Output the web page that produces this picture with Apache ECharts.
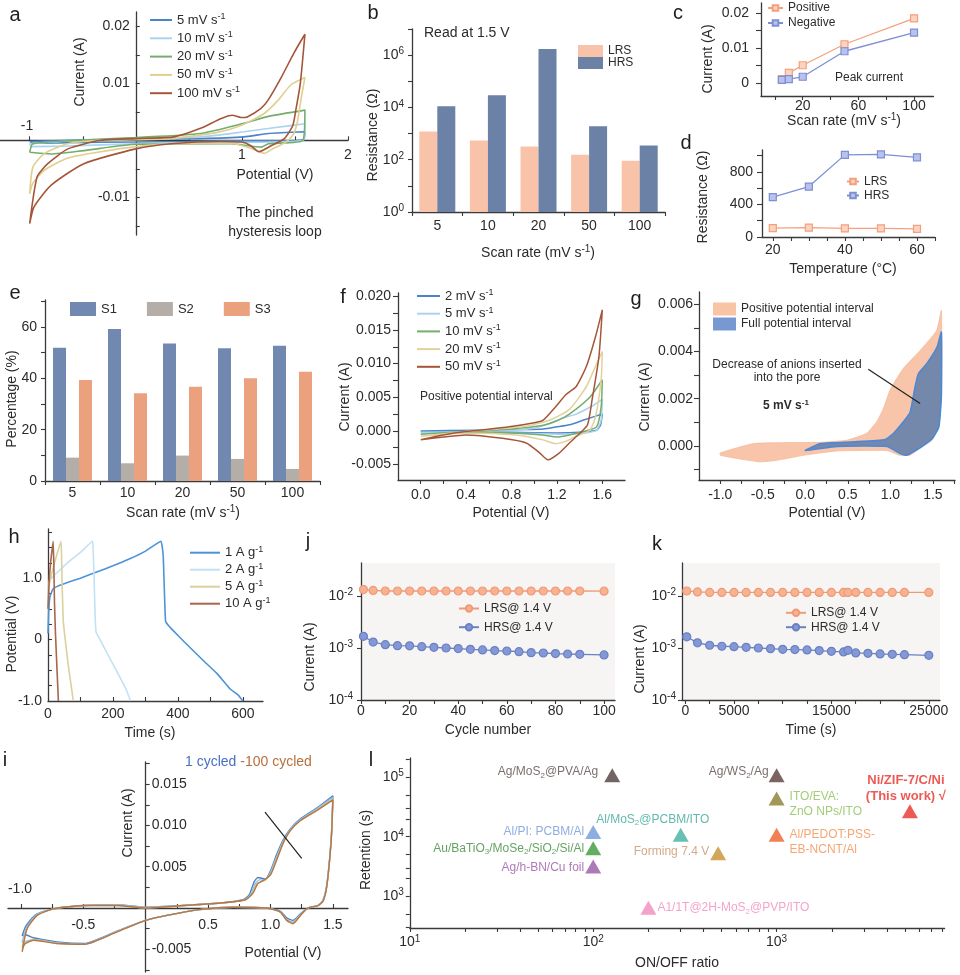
<!DOCTYPE html>
<html><head><meta charset="utf-8"><title>Figure panels a-l</title>
<script src="https://cdn.jsdelivr.net/npm/echarts@6/dist/echarts.min.js"></script>
<style>html,body{margin:0;padding:0;background:#fff;width:960px;height:975px;overflow:hidden}.p{position:absolute;left:0;top:0;width:960px;height:975px}</style>
</head><body>
<script>
// ================= DATA =================
// a : CV loops at different scan rates  [potential (V), current (A)]
const aNames = ['5 mV s^{-1}','10 mV s^{-1}','20 mV s^{-1}','50 mV s^{-1}','100 mV s^{-1}'];
const a5 = [[-1.0,-0.0002],[-0.6,0.0],[0,0.0002],[0.6,0.0003],[1.02,0.0006],[1.25,0.0012],[1.594,0.0015],[1.58,0.0001],[1.3,-0.0001],[0.9,-0.0001],[0.5,-0.0002],[0,-0.0003],[-0.64,-0.0004],[-0.97,-0.0005],[-1.0,-0.0002]];
const a10 = [[-1.0,-0.0006],[-0.6,-0.0001],[0,0.0002],[0.61,0.0006],[1.02,0.0015],[1.3,0.0022],[1.594,0.0029],[1.58,0.0],[1.25,-0.0003],[0.8,-0.0004],[0,-0.0006],[-0.64,-0.001],[-0.98,-0.0011],[-1.0,-0.0006]];
const a20 = [[-1.0,-0.0021],[-0.97,-0.0006],[-0.64,-0.0001],[0,0.0005],[0.61,0.0012],[1.02,0.003],[1.25,0.0042],[1.594,0.0053],[1.575,0.0],[1.25,-0.0006],[1.18,-0.0012],[0.9,-0.0006],[0,-0.0007],[-0.49,-0.0018],[-0.8,-0.0024],[-1.0,-0.0021]];
const a50 = [[-1.0,-0.0094],[-0.97,-0.0047],[-0.86,-0.0023],[-0.64,-0.0006],[-0.33,0.0],[0.33,0.0003],[0.77,0.0014],[0.99,0.0026],[1.21,0.0047],[1.34,0.007],[1.46,0.0097],[1.594,0.011],[1.56,0.0075],[1.52,0.003],[1.48,0.0009],[1.4,-0.0005],[1.3,-0.0014],[1.21,-0.0023],[1.1,-0.0015],[0.9,-0.0005],[0.33,-0.0006],[0,-0.0011],[-0.33,-0.002],[-0.64,-0.0031],[-0.86,-0.0052],[-0.97,-0.0075],[-1.0,-0.0094]];
const a100 = [[-1.0,-0.0146],[-0.93,-0.0064],[-0.83,-0.0041],[-0.64,-0.0015],[-0.33,0.0],[0,0.0003],[0.36,0.0006],[0.61,0.0021],[0.8,0.0038],[0.91,0.0044],[0.99,0.004],[1.05,0.0041],[1.18,0.0056],[1.245,0.007],[1.37,0.011],[1.49,0.0153],[1.594,0.0186],[1.55,0.0099],[1.51,0.0055],[1.48,0.0026],[1.40,0.0003],[1.28,-0.0009],[1.16,-0.002],[1.08,-0.0009],[1.0,-0.0003],[0.8,-0.0002],[0.33,-0.0006],[0,-0.0015],[-0.49,-0.0041],[-0.8,-0.0079],[-0.96,-0.0117],[-1.0,-0.0146]];

// b : resistance read at 1.5 V
const bCats = ['5','10','20','50','100'];
const bLRS = [1200,540,320,155,92];
const bHRS = [11000,29000,1700000,1900,350];

// c : peak current vs scan rate
const cRate = [5,10,20,50,100];
const cPos = [0.0011,0.0029,0.0051,0.0111,0.0185];
const cNeg = [0.0009,0.0011,0.0018,0.0091,0.0144];

// d : resistance vs temperature
const dTemp = [20,30,40,50,60];
const dLRS = [110,115,105,105,100];
const dHRS = [490,620,1010,1015,980];

// e : percentage S1/S2/S3
const eCats = ['5','10','20','50','100'];
const eS1 = [51.9,59.2,53.6,51.7,52.7];
const eS2 = [9.1,6.9,9.9,8.6,4.7];
const eS3 = [39.3,34.2,36.7,40.0,42.6];

// f : CV, positive potential interval
const fNames = ['2 mV s^{-1}','5 mV s^{-1}','10 mV s^{-1}','20 mV s^{-1}','50 mV s^{-1}'];
const f2 = [[0,0.0],[0.5,0.0001],[0.9,0.0002],[1.08,0.0003],[1.2,0.0006],[1.31,0.0009],[1.45,0.0017],[1.6,0.0025],[1.585,0.0009],[1.55,0.0001],[1.4,-0.0002],[1.2,-0.0003],[0.8,-0.0002],[0.4,-0.0001],[0,-0.0001]];
const f5 = [[0,-0.0002],[0.4,-0.0001],[0.8,0.0001],[1.0,0.0004],[1.1,0.0009],[1.25,0.0019],[1.37,0.0025],[1.51,0.0037],[1.6,0.0047],[1.59,0.0016],[1.55,0.0001],[1.45,-0.0003],[1.25,-0.0005],[1.0,-0.0004],[0.6,-0.0003],[0,-0.0003]];
const f10 = [[0,-0.0005],[0.4,-0.0001],[0.8,0.0003],[1.07,0.0008],[1.2,0.0015],[1.31,0.0025],[1.49,0.005],[1.6,0.0076],[1.59,0.0036],[1.55,0.0006],[1.43,-0.0001],[1.31,-0.0006],[1.2,-0.0009],[1.07,-0.0006],[0.8,-0.0003],[0.4,-0.0002],[0,-0.0005]];
const f20 = [[0,-0.0008],[0.4,-0.0001],[0.93,0.0007],[1.15,0.0017],[1.31,0.0032],[1.46,0.0066],[1.54,0.0096],[1.6,0.0118],[1.59,0.0076],[1.54,0.0021],[1.49,0.0001],[1.37,-0.0008],[1.27,-0.0016],[1.19,-0.0019],[1.07,-0.0013],[0.84,-0.0006],[0.4,-0.0003],[0,-0.0008]];
const f50 = [[0,-0.0013],[0.2,-0.0006],[0.4,-0.0001],[0.78,0.0006],[1.0,0.0012],[1.08,0.0016],[1.19,0.0036],[1.28,0.0054],[1.37,0.0066],[1.46,0.0096],[1.54,0.014],[1.6,0.018],[1.57,0.011],[1.51,0.0046],[1.47,0.0009],[1.4,-0.0004],[1.31,-0.0018],[1.22,-0.0033],[1.12,-0.0043],[1.05,-0.0033],[0.93,-0.0018],[0.72,-0.0011],[0.4,-0.0006],[0.2,-0.0009],[0,-0.0013]];

// g : loop areas at 5 mV/s (outline points)
const gPositive = [[1.6,0.00575],[1.545,0.0049],[1.35,0.00405],[1.155,0.0033],[1.0,0.0024],[0.92,0.0016],[0.84,0.00103],[0.72,0.00053],[0.49,0.00024],[0.18,0.00015],[-0.6,0.0001],[-1.0,-0.0003],[-1.0,-0.0004],[-0.8,-0.00054],[-0.53,-0.00068],[-0.33,-0.00061],[-0.02,-0.0004],[0.37,-0.00022],[0.96,-0.0002],[1.11,-0.0004],[1.23,-0.0004],[1.35,-0.0001],[1.49,0.00024],[1.57,0.00081],[1.6,0.0024]];
const gFull = [[1.6,0.00483],[1.55,0.0042],[1.43,0.0035],[1.33,0.00307],[1.29,0.0025],[1.23,0.0014],[1.155,0.00103],[1.04,0.00054],[0.94,0.00027],[0.57,0.00017],[0.18,0.0001],[0.0,-0.0002],[0.37,-0.00003],[0.96,-0.00003],[1.11,-0.00032],[1.19,-0.0004],[1.27,-0.00025],[1.37,-0.00003],[1.49,0.0003],[1.57,0.0008],[1.6,0.0021]];

// h : galvanostatic charge/discharge [time (s), potential (V)]
const hNames = ['1 A g^{-1}','2 A g^{-1}','5 A g^{-1}','10 A g^{-1}'];
const h1 = [[0,0.1],[2,0.45],[6,0.7],[15,0.82],[30,0.87],[60,0.93],[100,1.0],[150,1.1],[200,1.2],[250,1.31],[300,1.44],[348,1.6],[352,1.5],[355,1.34],[358,0.85],[362,0.3],[372,0.22],[385,0.15],[420,-0.04],[478,-0.34],[520,-0.55],[560,-0.8],[585,-0.9],[600,-1.0]];
const h2 = [[0,0.85],[5,0.97],[30,1.1],[60,1.25],[100,1.42],[137,1.6],[139,1.45],[142,1.0],[145,0.4],[148,0.12],[160,0.0],[190,-0.3],[220,-0.6],[240,-0.8],[254,-1.0]];
const h5 = [[0,0.8],[8,1.0],[20,1.25],[40,1.6],[42,1.3],[44,0.8],[47,0.3],[53,0.0],[62,-0.4],[70,-0.7],[78,-1.0]];
const h10 = [[0,0.5],[4,1.0],[9,1.3],[16,1.6],[18,1.2],[20,0.6],[23,0.1],[27,-0.4],[32,-1.0]];

// i : CV from 1st to 100th cycle
const iNames = ['1 cycled','cycle A','cycle B','100 cycled'];
const i1 = [[-0.99,-0.0034],[-0.96,-0.0022],[-0.88,-0.0008],[-0.74,-0.0001],[-0.49,0.0003],[-0.23,0.0004],[0,0.0001],[0.3,0.0003],[0.6,0.0006],[0.78,0.001],[0.83,0.0016],[0.87,0.0032],[0.9,0.0037],[0.93,0.0036],[0.96,0.0035],[1.0,0.0045],[1.05,0.0065],[1.1,0.0082],[1.16,0.0096],[1.24,0.0108],[1.37,0.0121],[1.5,0.0136],[1.49,0.0095],[1.475,0.0062],[1.45,0.0027],[1.42,0.0009],[1.38,0.0003],[1.3,0.0],[1.24,-0.0007],[1.18,-0.0015],[1.13,-0.0012],[1.08,-0.0004],[0.97,0.0],[0.7,0.0001],[0.43,-0.0002],[0.17,-0.0009],[0,-0.0015],[-0.23,-0.0028],[-0.49,-0.0043],[-0.71,-0.0041],[-0.9,-0.0036],[-0.97,-0.0032],[-0.99,-0.0034]];
const i2 = [[-0.99,-0.0042],[-0.955,-0.0024],[-0.875,-0.0008],[-0.74,-0.0001],[-0.49,0.0003],[-0.23,0.0004],[0,0.0001],[0.3,0.0003],[0.6,0.0006],[0.79,0.001],[0.84,0.0016],[0.88,0.003],[0.91,0.0034],[0.94,0.0034],[0.97,0.0036],[1.0,0.0043],[1.05,0.0062],[1.1,0.008],[1.16,0.0095],[1.24,0.0107],[1.37,0.012],[1.5,0.0134],[1.49,0.0093],[1.475,0.0061],[1.45,0.0026],[1.42,0.0009],[1.38,0.0003],[1.3,0.0],[1.24,-0.0008],[1.18,-0.0017],[1.13,-0.0014],[1.08,-0.0005],[0.97,0.0],[0.7,0.0001],[0.43,-0.0002],[0.17,-0.0009],[0,-0.0015],[-0.23,-0.0028],[-0.49,-0.0044],[-0.71,-0.0042],[-0.9,-0.0038],[-0.97,-0.0041],[-0.99,-0.0042]];
const i3 = [[-0.99,-0.0048],[-0.95,-0.0025],[-0.87,-0.0009],[-0.74,-0.0001],[-0.49,0.0003],[-0.23,0.0003],[0,0.0],[0.3,0.0003],[0.6,0.0006],[0.8,0.001],[0.85,0.0017],[0.89,0.0029],[0.93,0.0032],[0.96,0.0034],[1.0,0.0041],[1.05,0.006],[1.1,0.0079],[1.16,0.0094],[1.24,0.0106],[1.37,0.0119],[1.5,0.0132],[1.49,0.0091],[1.475,0.006],[1.45,0.0025],[1.42,0.0008],[1.38,0.0003],[1.3,0.0],[1.24,-0.0009],[1.18,-0.0018],[1.13,-0.0015],[1.08,-0.0005],[0.97,0.0],[0.7,0.0001],[0.43,-0.0002],[0.17,-0.0009],[0,-0.0015],[-0.23,-0.0029],[-0.49,-0.0044],[-0.71,-0.0043],[-0.9,-0.0038],[-0.97,-0.0043],[-0.99,-0.0048]];
const i100 = [[-0.99,-0.0053],[-0.95,-0.0025],[-0.87,-0.0009],[-0.74,-0.0001],[-0.49,0.0003],[-0.23,0.0003],[0,0.0],[0.3,0.0003],[0.6,0.0006],[0.8,0.001],[0.86,0.0018],[0.9,0.003],[0.95,0.0034],[1.0,0.004],[1.05,0.0058],[1.1,0.0078],[1.16,0.0094],[1.24,0.0106],[1.37,0.0118],[1.5,0.0131],[1.49,0.009],[1.475,0.006],[1.45,0.0025],[1.42,0.0008],[1.38,0.0003],[1.3,0.0],[1.24,-0.0009],[1.18,-0.0019],[1.13,-0.0015],[1.08,-0.0005],[0.97,0.0],[0.7,0.0001],[0.43,-0.0002],[0.17,-0.0009],[0,-0.0015],[-0.23,-0.0029],[-0.49,-0.0044],[-0.71,-0.0043],[-0.9,-0.0039],[-0.97,-0.0044],[-0.99,-0.0053]];

// j : endurance vs cycle number
const jCycle = [1,5,10,15,20,25,30,35,40,45,50,55,60,65,70,75,80,85,90,100];
const jLRS = [0.0133,0.0128,0.0125,0.0125,0.0125,0.0125,0.0125,0.0125,0.0125,0.0125,0.0125,0.0125,0.0125,0.0125,0.0125,0.0125,0.0125,0.0125,0.0125,0.0124];
const jHRS = [0.00168,0.0013,0.00116,0.00111,0.0011,0.00106,0.00103,0.001,0.000977,0.000944,0.000917,0.000891,0.000875,0.000851,0.000815,0.000802,0.00078,0.000767,0.000757,0.000735];

// k : retention vs time
const kTime = [150,1250,2500,3750,5000,6250,7500,8750,10000,11250,12500,13750,15000,16250,16700,17500,18750,20000,21250,22500,25000];
const kLRS = [0.0125,0.012,0.0117,0.0117,0.0117,0.0117,0.0117,0.0117,0.0117,0.0117,0.0117,0.0117,0.0117,0.0117,0.0117,0.0117,0.0117,0.0117,0.0117,0.0117,0.0117];
const kHRS = [0.00164,0.00126,0.00113,0.00108,0.00106,0.00103,0.001,0.000973,0.000944,0.000931,0.000918,0.000891,0.000863,0.000841,0.000904,0.000804,0.00079,0.000768,0.000757,0.000745,0.000723];

// l : comparison of devices
const lNames = ['Ag/MoS_{2}@PVA/Ag','Ag/WS_{2}/Ag','ITO/EVA:\nZnO NPs/ITO','Ni/ZIF-7/C/Ni\n(This work) √','Al/MoS_{2}@PCBM/ITO','Al/PI: PCBM/Al','Al/PEDOT:PSS-\nEB-NCNT/Al','Au/BaTiO_{3}/MoSe_{2}/SiO_{2}/Si/Al','Forming 7.4 V','Ag/h-BN/Cu foil','A1/1T@2H-MoS_{2}@PVP/ITO'];
const lRatio = [127,1000,1000,5330,300,100,1000,100,480,100,200];
const lRetention = [108000,108000,44000,26700,10800,12000,10800,6400,5280,3140,637];

// ================= STYLE / HELPERS =================
const FONT = "'Liberation Sans', Arial, Helvetica, sans-serif";
const AX = '#3a3a3a', TXT = '#2b2b2b';
function merge(a,b){const o=Object.assign({},a);for(const k in b){const v=b[k];if(v&&typeof v==='object'&&!Array.isArray(v)&&a&&a[k]&&typeof a[k]==='object'&&!Array.isArray(a[k]))o[k]=merge(a[k],v);else o[k]=v;}return o;}
function rt(s){return String(s).replace(/\^\{([^}]*)\}|_\{([^}]*)\}|([^\^_]+)/g,(m,p,q,r)=>p!=null?'{sup|'+p+'}':(q!=null?'{sub|'+q+'}':'{n|'+r+'}'));}
function R(fs,color,fw){color=color||TXT;fw=fw||'normal';const s=Math.round(fs*0.7);
  return {n:{fontSize:fs,fontFamily:FONT,color:color,fill:color,fontWeight:fw,lineHeight:fs+3},
          sup:{fontSize:s,fontFamily:FONT,color:color,fill:color,fontWeight:fw,lineHeight:s+1,verticalAlign:'top'},
          sub:{fontSize:s,fontFamily:FONT,color:color,fill:color,fontWeight:fw,lineHeight:s+1,verticalAlign:'bottom'}};}
function T(x,y,text,o){o=o||{};const al=o.align||'center';
  return {type:'text',x:x,y:y,rotation:o.rot?Math.PI/2:0,z:50,silent:true,
    style:{text:o.raw?text:rt(text),rich:o.rich||R(o.fs||14,o.color,o.fw),align:al,textAlign:al,verticalAlign:'middle',textVerticalAlign:'middle'}};}
const LET = {fs:20,color:'#1e1e1e'};
function G(l,t,w,h,extra){return merge({left:l,top:t,width:w,height:h,containLabel:false,outerBoundsMode:'none'},extra||{});}
function ax(o){return merge({
  axisLine:{show:true,onZero:false,lineStyle:{color:AX,width:1.3}},
  axisTick:{show:true,length:4,lineStyle:{color:AX,width:1.1}},
  axisLabel:{color:TXT,fontSize:14,fontFamily:FONT,margin:6},
  splitLine:{show:false}},o);}
function LG(o,fs){return merge({orient:'vertical',padding:0,selectedMode:false,formatter:n=>rt(n),
  textStyle:{fontSize:fs,color:TXT,fontFamily:FONT,rich:R(fs)}},o);}
function logFmt(v){return '{n|10}{sup|'+Math.round(Math.log10(v))+'}';}
function fx(n,zero){return v=>(zero&&Math.abs(v)<1e-12)?zero:v.toFixed(n);}
const intFmt = v=>String(Math.round(v));
function CV(name,data,color,w){return {type:'line',name:name,data:data,symbol:'none',showSymbol:false,smooth:0.2,lineStyle:{color:color,width:w},itemStyle:{color:color}};}
function MK(name,data,color,fill,symbol,size){return {type:'line',name:name,data:data,symbol:symbol,symbolSize:size,showSymbol:true,lineStyle:{color:color,width:1.3},itemStyle:{color:fill,borderColor:color,borderWidth:1.2}};}
function BAR(name,data,color,w){return {type:'bar',name:name,data:data,barWidth:w,barGap:'0%',itemStyle:{color:color}};}
function zip(xs,ys){return xs.map((x,i)=>[x,ys[i]]);}
// pixel offset that moves an axis from the grid edge onto the zero line of the other axis
function zeroOffset(len,min,max){return -len*(0-min)/(max-min);}
function panel(opt){const d=document.createElement('div');d.className='p';document.body.appendChild(d);
  const c=echarts.init(d,null,{renderer:'canvas'});opt.animation=false;opt.backgroundColor='transparent';opt.textStyle={fontFamily:FONT};c.setOption(opt);return c;}

// ================= PANEL a =================
const aColors=['#4a85c8','#a9d3f0','#74ad6c','#e0cf8f','#a5563a'];
const aX=[-1.28,2.0], aY=[-0.0166,0.0225], aG=[0,12,348,223];
panel({
  grid:G(aG[0],aG[1],aG[2],aG[3]),
  xAxis:ax({type:'value',min:aX[0],max:aX[1],offset:zeroOffset(aG[3],aY[0],aY[1]),axisTick:{inside:true,customValues:[-1,-0.5,0.5,1,1.5,2]},axisLabel:{customValues:[1,2],margin:8}}),
  yAxis:ax({type:'value',min:aY[0],max:aY[1],offset:zeroOffset(aG[2],aX[0],aX[1]),axisTick:{inside:true,customValues:[-0.015,-0.01,-0.005,0.005,0.01,0.015,0.02]},axisLabel:{customValues:[-0.01,0.01,0.02],margin:6,formatter:fx(2)}}),
  legend:LG({left:150,top:12,icon:'rect',itemWidth:22,itemHeight:2,itemGap:3.8,data:aNames},13),
  series:[a5,a10,a20,a50,a100].map((d,i)=>CV(aNames[i],d,aColors[i],1.6)),
  graphic:[T(15,15,'a',LET),T(27,126,'-1'),T(80,72,'Current (A)',{rot:1}),T(275,175,'Potential (V)'),T(275,213,'The pinched'),T(275,232,'hysteresis loop')]
});

// ================= PANEL b =================
panel({
  grid:G(412,29,253,183),
  xAxis:ax({type:'category',data:bCats,axisTick:{alignWithLabel:false},axisLabel:{margin:7}}),
  yAxis:ax({type:'log',logBase:10,min:1,max:1e7,axisTick:{customValues:[1,10,100,1e3,1e4,1e5,1e6,1e7]},axisLabel:{customValues:[1,100,1e4,1e6],formatter:logFmt,rich:R(14),margin:8}}),
  legend:LG({left:578,top:45,icon:'rect',itemWidth:25,itemHeight:12,itemGap:0,data:['LRS','HRS']},12),
  series:[BAR('LRS',bLRS,'#f9c3aa',18),BAR('HRS',bHRS,'#6b81a6',18)],
  graphic:[T(373,13,'b',LET),T(424,33,'Read at 1.5 V',{align:'left'}),T(373,135,'Resistance (Ω)',{rot:1}),T(538,253,'Scan rate (mV s^{-1})')]
});

// ================= PANEL c =================
panel({
  grid:G(761,3,172.5,93),
  xAxis:ax({type:'value',min:-10,max:114,axisTick:{customValues:[0,20,40,60,80,100]},axisLabel:{customValues:[20,60,100],margin:3}}),
  yAxis:ax({type:'value',min:-0.0037,max:0.0229,axisTick:{length:5,customValues:[0,0.005,0.01,0.015,0.02]},axisLabel:{customValues:[0,0.01,0.02],margin:12,formatter:fx(2,'0')}}),
  legend:LG({left:767,top:2,itemWidth:15,itemHeight:7,itemGap:3,data:['Positive','Negative']},12),
  series:[MK('Positive',zip(cRate,cPos),'#f4a07c','#fbd3c0','rect',7),MK('Negative',zip(cRate,cNeg),'#7e8fd4','#b9c2ec','rect',7)],
  graphic:[T(678,13,'c',LET),T(835,78,'Peak current',{align:'left',fs:12}),T(708,59,'Current (A)',{rot:1}),T(844,121,'Scan rate (mV s^{-1})')]
});

// ================= PANEL d =================
panel({
  grid:G(762,150,173,87),
  xAxis:ax({type:'value',min:17,max:65,axisTick:{customValues:[20,25,30,35,40,45,50,55,60,65]},axisLabel:{customValues:[20,40,60],margin:6}}),
  yAxis:ax({type:'value',min:0,max:1070,axisTick:{length:5,customValues:[0,200,400,600,800,1000]},axisLabel:{customValues:[0,400,800],margin:9}}),
  legend:LG({left:846,top:175.5,itemWidth:12,itemHeight:7,itemGap:2,data:['LRS','HRS']},12),
  series:[MK('LRS',zip(dTemp,dLRS),'#f4a07c','#fbd3c0','rect',7),MK('HRS',zip(dTemp,dHRS),'#7e8fd4','#b9c2ec','rect',7)],
  graphic:[T(686,143,'d',LET),T(703,197,'Resistance (Ω)',{rot:1}),T(843,269,'Temperature (°C)')]
});

// ================= PANEL e =================
panel({
  grid:G(45,300,275,181),
  xAxis:ax({type:'category',data:eCats,axisTick:{alignWithLabel:false},axisLabel:{margin:5}}),
  yAxis:ax({type:'value',min:0,max:70.5,axisTick:{customValues:[0,10,20,30,40,50,60,70]},axisLabel:{customValues:[0,20,40,60],margin:8}}),
  legend:LG({orient:'horizontal',left:70,top:302,icon:'rect',itemWidth:26,itemHeight:14,itemGap:30,data:['S1','S2','S3']},13),
  series:[BAR('S1',eS1,'#7189b0',13),BAR('S2',eS2,'#b5ada8',13),BAR('S3',eS3,'#eba07e',13)],
  graphic:[T(15,293,'e',LET),T(12,399,'Percentage (%)',{rot:1}),T(183,513,'Scan rate (mV s^{-1})')]
});

// ================= PANEL f =================
const fColors=['#4a85c8','#a9d3f0','#74ad6c','#e0d29a','#a5563a'];
panel({
  grid:G(398,293,227,187),
  xAxis:ax({type:'value',min:-0.2,max:1.8,axisTick:{customValues:[0,0.2,0.4,0.6,0.8,1.0,1.2,1.4,1.6]},axisLabel:{customValues:[0,0.4,0.8,1.2,1.6],margin:8,formatter:fx(1)}}),
  yAxis:ax({type:'value',min:-0.0073,max:0.0205,axisTick:{length:5,customValues:[-0.005,-0.0025,0,0.0025,0.005,0.0075,0.01,0.0125,0.015,0.0175,0.02]},axisLabel:{customValues:[-0.005,0,0.005,0.01,0.015,0.02],margin:7,formatter:fx(3)}}),
  legend:LG({left:417,top:288,icon:'rect',itemWidth:23,itemHeight:2,itemGap:3.2,data:fNames},13),
  series:[f2,f5,f10,f20,f50].map((d,i)=>CV(fNames[i],d,fColors[i],1.5)),
  graphic:[T(343,297,'f',LET),T(420,397,'Positive potential interval',{align:'left',fs:12}),T(345,397,'Current (A)',{rot:1}),T(511,513,'Potential (V)')]
});

// ================= PANEL g =================
function POLY(name,pts,legendColor,fill,stroke,lw,z){return {type:'custom',name:name,coordinateSystem:'cartesian2d',data:pts,encode:{x:0,y:1},z:z,itemStyle:{color:legendColor},
  renderItem:(p,api)=>{if(p.dataIndex!==0)return null;return {type:'polygon',shape:{points:pts.map(q=>api.coord(q)),smooth:0.15},style:{fill:fill,stroke:stroke,lineWidth:lw}};}};}
panel({
  grid:G(699,292,256,188),
  xAxis:ax({type:'value',min:-1.25,max:1.76,axisTick:{customValues:[-1,-0.75,-0.5,-0.25,0,0.25,0.5,0.75,1,1.25,1.5,1.75]},axisLabel:{customValues:[-1,-0.5,0,0.5,1,1.5],margin:8,formatter:fx(1)}}),
  yAxis:ax({type:'value',min:-0.00145,max:0.00653,axisTick:{length:5,customValues:[-0.001,0,0.001,0.002,0.003,0.004,0.005,0.006]},axisLabel:{customValues:[0,0.002,0.004,0.006],margin:6,formatter:fx(3)}}),
  legend:LG({left:713,top:302.5,icon:'rect',itemWidth:23,itemHeight:13,itemGap:2,data:['Positive potential interval','Full potential interval']},12),
  series:[POLY('Positive potential interval',gPositive,'#f9c3a6','#f9c5aa','#f6b999',0.8,2),
          POLY('Full potential interval',gFull,'#7898d2','rgba(92,124,171,0.85)','#4a88d8',1.5,3),
          {type:'scatter',data:[[0.74,0.00325]],symbolSize:0,z:5,silent:true,
           markLine:{silent:true,symbol:['none','arrow'],symbolSize:[0,9],label:{show:false},lineStyle:{color:'#222',width:1.2,type:'solid'},data:[[{coord:[0.74,0.00325]},{coord:[1.35,0.0018]}]]}}],
  graphic:[T(636,299,'g',LET),T(787,365,'Decrease of anions inserted',{fs:12}),T(787,378,'into the pore',{fs:12}),T(786,406,'5 mV s^{-1}',{fs:12,fw:'bold'}),T(645,397,'Current (A)',{rot:1}),T(827,513,'Potential (V)')]
});

// ================= PANEL h =================
const hColors=['#4d93d6','#c2e1f3','#d8d29c','#a8664a'];
panel({
  grid:G(48,529,215,172),
  xAxis:ax({type:'value',min:0,max:662,axisTick:{inside:true,customValues:[100,200,300,400,500,600]},axisLabel:{customValues:[0,200,400,600],margin:6}}),
  yAxis:ax({type:'value',min:-1,max:1.8,axisTick:{inside:true,customValues:[-0.75,-0.5,-0.25,0,0.25,0.5,0.75,1,1.25,1.5,1.75]},axisLabel:{customValues:[-1,0,1],margin:6,formatter:fx(1,'0')}}),
  legend:LG({left:190,top:544.7,icon:'rect',itemWidth:30,itemHeight:2,itemGap:2.5,data:hNames},13),
  series:[h1,h2,h5,h10].map((d,i)=>Object.assign(CV(hNames[i],d,hColors[i],1.6),{smooth:0.1})),
  graphic:[T(14,537,'h',LET),T(12,634,'Potential (V)',{rot:1}),T(150,733,'Time (s)')]
});

// ================= PANEL j =================
const bg = {show:true,backgroundColor:'#f7f5f4',borderWidth:0,borderColor:'transparent'};
panel({
  grid:G(361,563,254,137,bg),
  xAxis:ax({type:'value',min:0,max:104.5,axisTick:{customValues:[0,10,20,30,40,50,60,70,80,90,100]},axisLabel:{customValues:[0,20,40,60,80,100],margin:4,formatter:intFmt}}),
  yAxis:ax({type:'log',logBase:10,min:1e-4,max:0.04315,axisTick:{customValues:[1e-4,1e-3,1e-2]},axisLabel:{customValues:[1e-4,1e-3,1e-2],formatter:logFmt,rich:R(14),margin:8}}),
  legend:LG({left:458,top:602.5,itemWidth:20,itemHeight:8,itemGap:6.7,data:['LRS@ 1.4 V','HRS@ 1.4 V']},12),
  series:[MK('LRS@ 1.4 V',zip(jCycle,jLRS),'#f09a74','#f7b294','circle',8),MK('HRS@ 1.4 V',zip(jCycle,jHRS),'#6a80c4','#8598d6','circle',8)],
  graphic:[T(308,541,'j',LET),T(310,657,'Current (A)',{rot:1}),T(488,730,'Cycle number')]
});

// ================= PANEL k =================
panel({
  grid:G(682,563,258,137,bg),
  xAxis:ax({type:'value',min:-338,max:26150,axisTick:{customValues:[0,2500,5000,7500,10000,12500,15000,17500,20000,22500,25000]},axisLabel:{customValues:[0,5000,15000,25000],margin:4,formatter:intFmt}}),
  yAxis:ax({type:'log',logBase:10,min:1e-4,max:0.04315,axisTick:{customValues:[1e-4,1e-3,1e-2]},axisLabel:{customValues:[1e-4,1e-3,1e-2],formatter:logFmt,rich:R(14),margin:6}}),
  legend:LG({left:785,top:606.8,itemWidth:20,itemHeight:8,itemGap:2.4,data:['LRS@ 1.4 V','HRS@ 1.4 V']},12),
  series:[MK('LRS@ 1.4 V',zip(kTime,kLRS),'#f09a74','#f7b294','circle',8),MK('HRS@ 1.4 V',zip(kTime,kHRS),'#6a80c4','#8598d6','circle',8)],
  graphic:[T(657,544,'k',LET),T(640,659,'Current (A)',{rot:1}),T(811,730,'Time (s)')]
});

// ================= PANEL i =================
const iColors=['#4f7fc6','#8cc3ea','#c8c678','#b8754c'];
const iSeries=[i1,i2,i3,i100].map((d,k)=>CV(iNames[k],d,iColors[k],1.4));
iSeries[3].markLine={silent:true,symbol:['none','arrow'],symbolSize:[0,9],label:{show:false},lineStyle:{color:'#222',width:1.2,type:'solid'},data:[[{coord:[0.956,0.0116]},{coord:[1.25,0.006]}]]};
const iX=[-1.103,1.621], iY=[-0.00775,0.01768], iG=[8,762,340,210];
panel({
  grid:G(iG[0],iG[1],iG[2],iG[3]),
  xAxis:ax({type:'value',min:iX[0],max:iX[1],offset:zeroOffset(iG[3],iY[0],iY[1]),axisTick:{inside:true,customValues:[-1,-0.75,-0.5,-0.25,0.25,0.5,0.75,1,1.25,1.5]},axisLabel:{customValues:[-0.5,0.5,1,1.5],margin:10,formatter:fx(1)}}),
  yAxis:ax({type:'value',min:iY[0],max:iY[1],offset:zeroOffset(iG[2],iX[0],iX[1]),axisTick:{inside:true,customValues:[-0.0075,-0.005,-0.0025,0.0025,0.005,0.0075,0.01,0.0125,0.015,0.0175]},axisLabel:{inside:true,customValues:[-0.005,0.005,0.01,0.015],margin:6,formatter:fx(3)}}),
  series:iSeries,
  graphic:[T(5,760,'i',LET),T(20,889,'-1.0'),T(128,823,'Current (A)',{rot:1}),T(283,953,'Potential (V)'),
    T(185,762,'{b|1 cycled }{o|-100 cycled}',{raw:true,align:'left',rich:{b:{fontSize:14,fontFamily:FONT,fill:'#4a6fc4'},o:{fontSize:14,fontFamily:FONT,fill:'#b8703e'}}})]
});

// ================= PANEL l =================
// label placement / colours for each device (styling only)
const lStyle=[
 {c:'#4e3d3b',t:'#5a4a48',pos:'left',d:6,off:[0,-3]},
 {c:'#5b3f3a',t:'#5a4a48',pos:'left',d:0,off:[0,-3]},
 {c:'#8a7d2e',t:'#8cc05a',pos:'right',d:5,off:[0,6]},
 {c:'#e8302a',t:'#e8302a',pos:'top',d:0,off:[-4,0],fw:'bold',fs:13},
 {c:'#40b0a0',t:'#3aa898',pos:'top',d:1,off:[-28,0]},
 {c:'#6f9ad8',t:'#6f9ad8',pos:'left',d:1,off:[0,0]},
 {c:'#f0602a',t:'#f29050',pos:'right',d:5,off:[0,7]},
 {c:'#3a9a3a',t:'#3d8c3a',pos:'left',d:1,off:[0,0]},
 {c:'#c89030',t:'#c8946a',pos:'left',d:1,off:[0,-1]},
 {c:'#9a58a8',t:'#9a58a8',pos:'left',d:1,off:[0,1]},
 {c:'#f08cbc',t:'#f08cbc',pos:'right',d:1,off:[0,0]}
];
panel({
  grid:G(409.8,758,534.8,170),
  xAxis:ax({type:'log',logBase:10,min:10,max:8240,axisTick:{customValues:[10,20,30,40,50,60,70,80,90,100,200,300,400,500,600,700,800,900,1000,2000,3000,4000,5000,6000,7000,8000]},axisLabel:{customValues:[10,100,1000],formatter:logFmt,rich:R(14),margin:6}}),
  yAxis:ax({type:'log',logBase:10,min:292,max:210000,axisTick:{customValues:[300,500,1000,2000,3000,5000,10000,20000,30000,50000,100000,200000]},axisLabel:{customValues:[1000,10000,100000],formatter:logFmt,rich:R(14),margin:6}}),
  series:[{type:'scatter',symbol:'triangle',symbolSize:[16,14],
    data:lNames.map((n,i)=>({name:n,value:[lRatio[i],lRetention[i]],itemStyle:{color:lStyle[i].c},
      label:{show:true,position:lStyle[i].pos,distance:lStyle[i].d,offset:lStyle[i].off,align:lStyle[i].pos==='top'?'center':undefined,
        formatter:()=>rt(n),rich:R(lStyle[i].fs||12,lStyle[i].t,lStyle[i].fw)}}))}],
  graphic:[T(371,760,'l',LET),T(366,850,'Retention (s)',{rot:1}),T(677,963,'ON/OFF ratio')]
});
</script>
</body></html>
